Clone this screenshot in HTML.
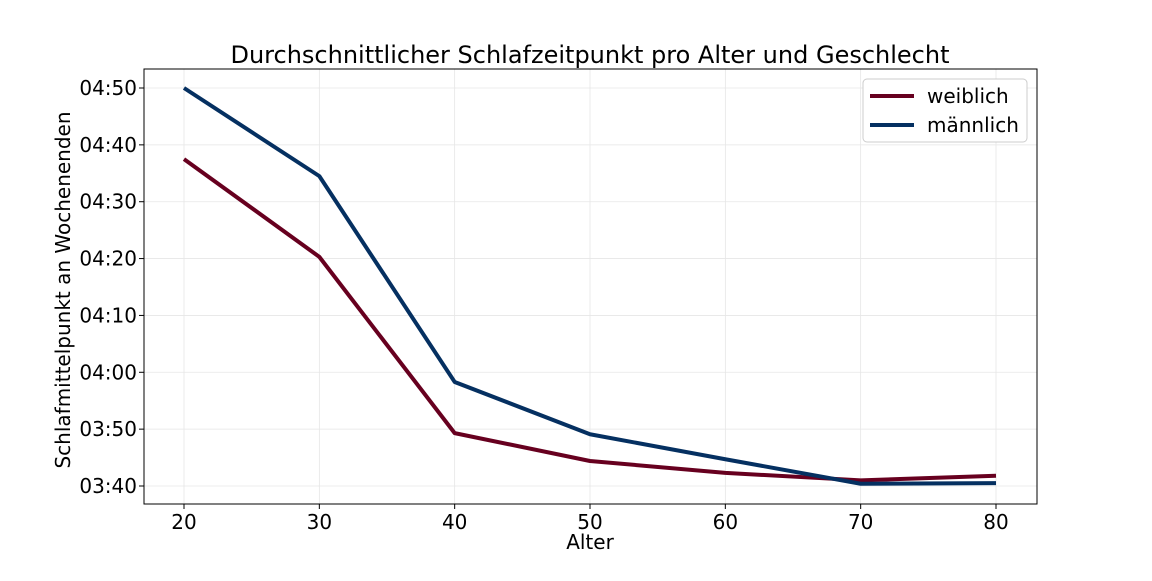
<!DOCTYPE html>
<html><head><meta charset="utf-8"><style>
body{margin:0;background:#fff;font-family:"Liberation Sans","DejaVu Sans",sans-serif}
svg text{font-family:"DejaVu Sans","Liberation Sans",sans-serif}
</style></head><body>
<svg id="chart" width="1152" height="576"></svg>
<script>
const ages=[20,30,40,50,60,70,80];
const weiblich=[277.5,260.3,229.3,224.4,222.3,221.0,221.8];
const maennlich=[290.0,274.5,238.3,229.1,224.7,220.4,220.5];
const xTicks=[20,30,40,50,60,70,80];
const yTicks=[220,230,240,250,260,270,280,290];
const yTickLabels=["03:40","03:50","04:00","04:10","04:20","04:30","04:40","04:50"];
const L=144,R=1037,T=69,B=504;
const xs=v=>184+(v-20)*(996-184)/60;
const ys=v=>486-(v-220)*(486-88)/70;
const NS="http://www.w3.org/2000/svg";
const svg=document.getElementById('chart');
function mk(t,a,p){const e=document.createElementNS(NS,t);for(const k in a)e.setAttribute(k,a[k]);(p||svg).appendChild(e);return e;}
const grid=mk('g',{});


xTicks.forEach(v=>{mk('line',{x1:xs(v),x2:xs(v),y1:T,y2:B,stroke:'#e6e6e6','stroke-width':0.8},grid);
 mk('line',{x1:xs(v),x2:xs(v),y1:B,y2:B+5,stroke:'#000'});
 const l=mk('text',{x:xs(v),y:B+25,'text-anchor':'middle','font-size':20});l.textContent=v;
 
 });
yTicks.forEach((v,i)=>{mk('line',{x1:L,x2:R,y1:ys(v),y2:ys(v),stroke:'#e6e6e6','stroke-width':0.8},grid);
 mk('line',{x1:L-5,x2:L,y1:ys(v),y2:ys(v),stroke:'#000'});
 const l=mk('text',{x:L-7,y:ys(v)+7,'text-anchor':'end','font-size':20});l.textContent=yTickLabels[i];
 
 });
mk('rect',{x:L,y:T,width:R-L,height:B-T,fill:'none',stroke:'#000','stroke-width':1});
function series(d,c,n){const p=mk('polyline',{points:d.map((v,i)=>xs(ages[i])+','+ys(v)).join(' '),fill:'none',stroke:c,'stroke-width':4,'stroke-linejoin':'round'});
 
 }
series(weiblich,'#67001f','line-weiblich');
series(maennlich,'#053061','line-maennlich');
const title=mk('text',{x:590,y:63,'text-anchor':'middle','font-size':24});title.textContent='Durchschnittlicher Schlafzeitpunkt pro Alter und Geschlecht';


const xl=mk('text',{x:590,y:549,'text-anchor':'middle','font-size':20});xl.textContent='Alter';


const yl=mk('text',{x:0,y:0,'text-anchor':'middle','font-size':20,transform:'translate(70,290) rotate(-90)'});yl.textContent='Schlafmittelpunkt an Wochenenden';


const lg=mk('g',{});


mk('rect',{x:863,y:79,width:164,height:63,rx:4,fill:'#fff',stroke:'#ccc'},lg);
[['weiblich','#67001f',96],['männlich','#053061',125]].forEach(([n,c,y])=>{
 mk('line',{x1:870,x2:914,y1:y,y2:y,stroke:c,'stroke-width':4},lg);
 const t=mk('text',{x:927,y:y+7,'font-size':20},lg);t.textContent=n;
 
 });
</script>
</body></html>
